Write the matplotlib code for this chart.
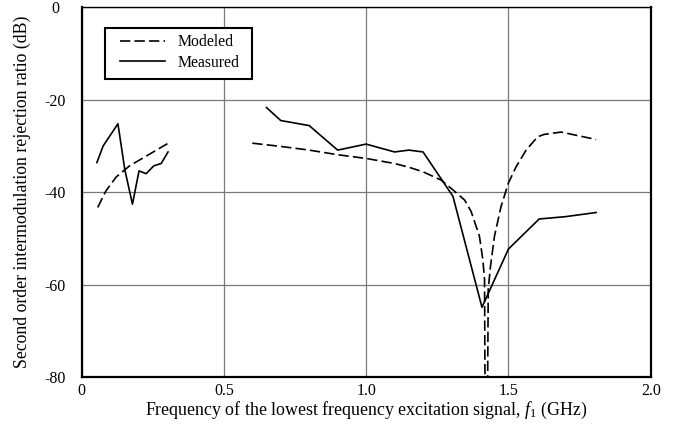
import numpy as np
import matplotlib
matplotlib.use("Agg")
import matplotlib.pyplot as plt
from matplotlib.patches import Rectangle

plt.rcParams['font.family'] = ['Liberation Serif', 'DejaVu Serif']
plt.rcParams['mathtext.fontset'] = 'custom'
plt.rcParams['mathtext.rm'] = 'Liberation Serif'
plt.rcParams['mathtext.it'] = 'Liberation Serif:italic'

# low band (left group)
meas_lo_f = [0.054, 0.076, 0.128, 0.152, 0.179, 0.202, 0.227, 0.254, 0.28, 0.304]
meas_lo_db = [-33.6, -30.0, -25.2, -35.1, -42.6, -35.4, -36.0, -34.3, -33.8, -31.3]
mod_lo_f = [0.057, 0.085, 0.122, 0.169, 0.23, 0.302]
mod_lo_db = [-43.3, -39.8, -36.7, -34.3, -32.1, -29.5]

# high band (right group)
meas_hi_f = [0.65, 0.70, 0.80, 0.90, 1.00, 1.10, 1.15, 1.20, 1.305, 1.407, 1.50, 1.608, 1.70, 1.808]
meas_hi_db = [-21.7, -24.5, -25.6, -30.9, -29.6, -31.3, -30.9, -31.3, -40.9, -64.9, -52.3, -45.8, -45.3, -44.4]
mod_hi_f = [0.60, 0.70, 0.80, 0.90, 1.00, 1.10, 1.15, 1.20, 1.264, 1.305, 1.346, 1.369, 1.398, 1.41, 1.416,
            1.419, 1.425, 1.429, 1.437, 1.451, 1.474, 1.50, 1.527, 1.562, 1.603, 1.626, 1.685, 1.808]
mod_hi_db = [-29.4, -30.1, -30.9, -31.9, -32.7, -33.8, -34.6, -35.6, -37.4, -39.5, -41.7, -44.2, -49.5, -54.6, -58.9,
             -100.0, -100.0, -61.0, -56.0, -49.5, -43.1, -38.0, -34.5, -30.9, -28.0, -27.5, -27.0, -28.6]

fig = plt.figure(figsize=(6.85, 4.28), dpi=100)
ax = fig.add_axes([0.119, 0.119, 0.831, 0.864])

dash = (6.2, 2.5)
ax.plot(mod_lo_f, mod_lo_db, color='black', lw=1.2, dashes=dash, label='Modeled')
ax.plot(meas_lo_f, meas_lo_db, color='black', lw=1.2, label='Measured')
ax.plot(mod_hi_f, mod_hi_db, color='black', lw=1.2, dashes=dash)
ax.plot(meas_hi_f, meas_hi_db, color='black', lw=1.2)

ax.set_xlim(0, 2.0)
ax.set_ylim(-80, 0)
ax.set_xticks([0, 0.5, 1.0, 1.5, 2.0])
ax.set_xticklabels(['0', '0.5', '1.0', '1.5', '2.0'])
ax.set_yticks([0, -20, -40, -60, -80])
ax.set_yticklabels(['0', '-20', '-40', '-60', '-80'], ha='center')
ax.tick_params(length=0, labelsize=11.5)
ax.tick_params(axis='x', pad=4)
ax.tick_params(axis='y', pad=19)
ax.grid(True, color='#7a7a7a', lw=0.9)
ax.set_axisbelow(True)
for s in ax.spines.values():
    s.set_color('black')
    s.set_linewidth(1.6)
ax.spines['top'].set_linewidth(1.0)

ax.set_xlabel('Frequency of the lowest frequency excitation signal, $f_1$ (GHz)', fontsize=12.9, labelpad=1)
ax.set_ylabel('Second order intermodulation rejection ratio (dB)', fontsize=12.8)
ax.yaxis.set_label_coords(-0.088, 0.5)

# legend box drawn separately so the inner padding can be wider than tall
ax.add_patch(Rectangle((0.042, 0.805), 0.257, 0.138, transform=ax.transAxes,
                       facecolor='white', edgecolor='black', lw=1.5, zorder=4))
leg = ax.legend(loc='upper left', bbox_to_anchor=(0.056, 0.944), fontsize=11.3, frameon=False,
                handlelength=2.9, borderpad=0.4, labelspacing=0.3, handletextpad=0.8, borderaxespad=0)
leg.set_zorder(5)

fig.savefig('out.png', dpi=100)
